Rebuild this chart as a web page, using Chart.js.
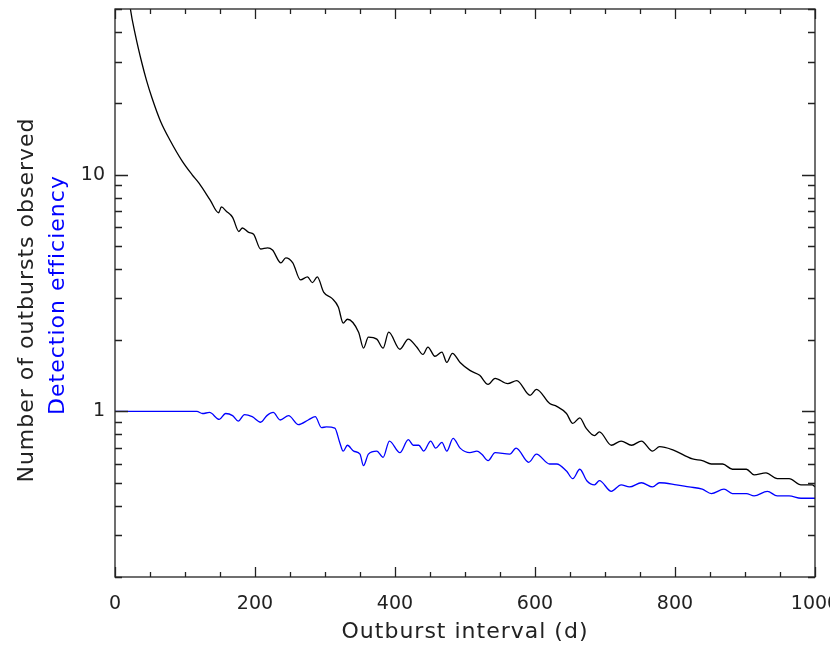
<!DOCTYPE html>
<html>
<head>
<meta charset="utf-8">
<script src="https://cdn.jsdelivr.net/npm/chart.js@4.4.1/dist/chart.umd.min.js"></script>
<style>
  html, body { margin: 0; padding: 0; background: #fff; }
  #chart { display: block; }
</style>
</head>
<body>
<canvas id="chart" width="830" height="645"></canvas>
<script>
// Number of outbursts observed (black) vs outburst interval (d)
const blackX = [10, 15, 22, 29, 38.5, 45, 53, 65, 79, 96,
    110, 120, 136, 148, 152, 159, 168, 177, 182, 191,
    198, 208, 218, 225, 237, 244, 254, 265, 275, 282,
    289, 298, 310, 319, 326, 332, 348, 355, 362, 374,
    383, 391, 407, 419, 431, 440, 447, 457, 467, 474,
    482, 493, 507, 521, 533, 543, 561, 574, 593, 602,
    621, 631, 645, 654, 664, 673, 685, 692, 709, 723,
    738, 752, 768, 778, 796, 825, 839, 852, 868, 882,
    902, 913, 930, 946, 963, 980, 996, 1000];
const blackY = [113, 75, 50, 39, 29.5, 25, 21, 16.8, 13.9, 11.4,
    10, 9.2, 7.8, 6.9, 7.3, 7.0, 6.6, 5.75, 5.95, 5.7,
    5.6, 4.85, 4.9, 4.8, 4.24, 4.45, 4.24, 3.59, 3.7, 3.5,
    3.7, 3.19, 3.0, 2.76, 2.36, 2.45, 2.16, 1.85, 2.06, 2.02,
    1.85, 2.16, 1.83, 2.02, 1.87, 1.74, 1.87, 1.71, 1.78, 1.61,
    1.76, 1.61, 1.49, 1.42, 1.30, 1.38, 1.31, 1.35, 1.17, 1.24,
    1.08, 1.05, 0.98, 0.89, 0.94, 0.85, 0.79, 0.82, 0.72, 0.75,
    0.72, 0.75, 0.68, 0.71, 0.69, 0.63, 0.62, 0.60, 0.60, 0.57,
    0.57, 0.54, 0.55, 0.52, 0.52, 0.49, 0.49, 0.48];

// Detection efficiency (blue)
const blueX = [0, 60, 117, 125, 135, 149, 158, 168, 176, 185,
    196, 208, 217, 226, 236, 248, 262, 276, 286, 295,
    302, 314, 321, 326, 332, 341, 350, 355, 362, 374,
    383, 392, 407, 419, 426, 434, 441, 451, 458, 467,
    474, 483, 493, 507, 517, 524, 533, 543, 564, 573,
    591, 602, 621, 631, 645, 654, 664, 674, 685, 692,
    709, 723, 735, 752, 768, 778, 802, 820, 839, 852,
    870, 882, 902, 913, 932, 946, 963, 980, 996, 1000];
const blueY = [1, 1, 1, 0.98, 0.99, 0.925, 0.98, 0.96, 0.91, 0.97,
    0.95, 0.90, 0.96, 0.99, 0.92, 0.96, 0.88, 0.92, 0.95, 0.855,
    0.86, 0.85, 0.74, 0.68, 0.72, 0.68, 0.66, 0.59, 0.66, 0.68,
    0.64, 0.75, 0.67, 0.76, 0.72, 0.72, 0.68, 0.75, 0.70, 0.74,
    0.68, 0.77, 0.70, 0.67, 0.68, 0.66, 0.62, 0.67, 0.66, 0.70,
    0.61, 0.66, 0.60, 0.60, 0.56, 0.52, 0.57, 0.51, 0.49, 0.51,
    0.46, 0.49, 0.48, 0.50, 0.48, 0.50, 0.49, 0.48, 0.47, 0.45,
    0.47, 0.45, 0.45, 0.44, 0.46, 0.44, 0.44, 0.43, 0.43, 0.43];

// axis ticks
const xTickMarks = [0, 50, 100, 150, 200, 250, 300, 350, 400, 450, 500,
    550, 600, 650, 700, 750, 800, 850, 900, 950, 1000];
const xLabelTicks = [0, 200, 400, 600, 800, 1000];
const yTickMarks = [0.2, 0.3, 0.4, 0.5, 0.6, 0.7, 0.8, 0.9, 1,
    2, 3, 4, 5, 6, 7, 8, 9, 10, 20, 30, 40, 50];
const yLabelTicks = [1, 10];

const xTitle = 'Outburst interval (d)';
const yTitleBlack = 'Number of outbursts observed';
const yTitleBlue = 'Detection efficiency';

const INK = '#222';
const BLUE = '#0000ff';
const FONT = 'DejaVu Sans';

function toPoints(xs, ys) {
    return xs.map((x, i) => ({ x: x, y: ys[i] }));
}

// Marco, marcas de los ejes y títulos
const framePlugin = {
    id: 'frame',
    afterDatasetsDraw(chart) {
        const ctx = chart.ctx;
        const a = chart.chartArea;
        const xs = chart.scales.x;
        const ys = chart.scales.y;
        ctx.save();
        ctx.strokeStyle = INK;
        ctx.lineWidth = 1.3;
        ctx.strokeRect(a.left, a.top, a.right - a.left, a.bottom - a.top);

        ctx.beginPath();
        xTickMarks.forEach(v => {
            const px = Math.round(xs.getPixelForValue(v)) + 0.5;
            const len = xLabelTicks.includes(v) ? 10 : 5;
            ctx.moveTo(px, a.bottom); ctx.lineTo(px, a.bottom - len);
            ctx.moveTo(px, a.top); ctx.lineTo(px, a.top + len);
        });
        yTickMarks.forEach(v => {
            const py = Math.round(ys.getPixelForValue(v)) + 0.5;
            const len = yLabelTicks.includes(v) ? 13 : 7;
            ctx.moveTo(a.left, py); ctx.lineTo(a.left + len, py);
            ctx.moveTo(a.right, py); ctx.lineTo(a.right - len, py);
        });
        ctx.stroke();

        // títulos
        ctx.font = '22px "' + FONT + '"';
        ctx.letterSpacing = '1px';
        ctx.textAlign = 'center';
        ctx.textBaseline = 'alphabetic';
        ctx.fillStyle = INK;
        ctx.fillText(xTitle, (a.left + a.right) / 2, 638);

        ctx.save();
        ctx.translate(33, 300);
        ctx.rotate(-Math.PI / 2);
        ctx.fillStyle = INK;
        ctx.fillText(yTitleBlack, 0, 0);
        ctx.restore();

        ctx.save();
        ctx.translate(64, 295);
        ctx.rotate(-Math.PI / 2);
        ctx.fillStyle = BLUE;
        ctx.fillText(yTitleBlue, 0, 0);
        ctx.restore();

        ctx.letterSpacing = '0px';
        ctx.restore();
    }
};

const ctx = document.getElementById('chart').getContext('2d');
const myChart = new Chart(ctx, {
    type: 'line',
    data: {
        datasets: [
            {
                label: yTitleBlack,
                data: toPoints(blackX, blackY),
                borderColor: '#000',
                borderWidth: 1.3,
                pointRadius: 0,
                fill: false,
                cubicInterpolationMode: 'monotone'
            },
            {
                label: yTitleBlue,
                data: toPoints(blueX, blueY),
                borderColor: BLUE,
                borderWidth: 1.3,
                pointRadius: 0,
                fill: false,
                cubicInterpolationMode: 'monotone'
            }
        ]
    },
    options: {
        responsive: false,
        animation: false,
        layout: { padding: { left: 0, right: 15, top: 9, bottom: 0 } },
        plugins: {
            legend: { display: false },
            tooltip: { enabled: false }
        },
        scales: {
            x: {
                type: 'linear',
                min: 0,
                max: 1000,
                grid: { display: false, drawTicks: false },
                border: { display: false },
                afterBuildTicks: scale => {
                    scale.ticks = xLabelTicks.map(v => ({ value: v }));
                },
                afterFit: scale => {
                    scale.paddingLeft = 0;
                    scale.paddingRight = 0;
                    scale.height = 68;
                },
                ticks: {
                    autoSkip: false,
                    maxRotation: 0,
                    padding: 16,
                    color: INK,
                    font: { family: FONT, size: 19 },
                    callback: v => String(v)
                }
            },
            y: {
                type: 'logarithmic',
                min: 0.2,
                max: 50,
                grid: { display: false, drawTicks: false },
                border: { display: false },
                afterBuildTicks: scale => {
                    scale.ticks = yTickMarks.map(v => ({ value: v }));
                },
                afterFit: scale => {
                    scale.width = 115;
                    scale.paddingTop = 0;
                    scale.paddingBottom = 0;
                },
                ticks: {
                    autoSkip: false,
                    padding: 10,
                    color: INK,
                    font: { family: FONT, size: 19 },
                    callback: v => (yLabelTicks.includes(v) ? String(v) : '')
                }
            }
        }
    },
    plugins: [framePlugin]
});
</script>
</body>
</html>
